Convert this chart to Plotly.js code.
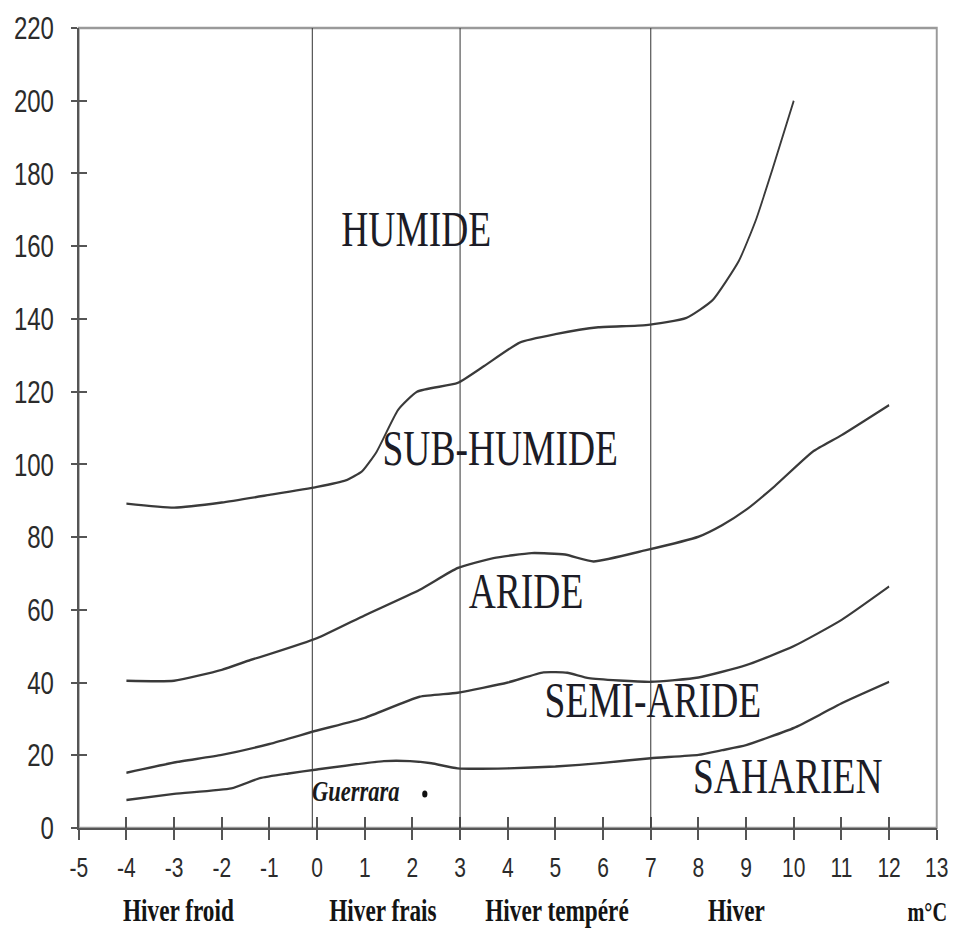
<!DOCTYPE html>
<html>
<head>
<meta charset="utf-8">
<script src="https://cdn.plot.ly/plotly-3.0.1.min.js"></script>
<style>
  html, body { margin: 0; padding: 0; background: #fff; overflow: hidden; width: 954px; height: 931px; }
  #chart { position: absolute; left: 0; top: 0; transform-origin: 0 0; }
</style>
</head>
<body>
<div id="chart"></div>
<script>
// Climagramme d'Emberger : Q2 en fonction de m (°C)

const xRange = [-5, 13];
const yRange = [0, 220];
const xTicks = [-5, -4, -3, -2, -1, 0, 1, 2, 3, 4, 5, 6, 7, 8, 9, 10, 11, 12, 13];
const yTicks = [0, 20, 40, 60, 80, 100, 120, 140, 160, 180, 200, 220];

// Limite humide / sub-humide
const humideX = [-4, -3, -2, -1, 0, 0.6, 0.95, 1.25, 1.7, 2.1, 2.95, 3.5, 4.25, 5, 5.9, 6.9, 7.75, 8.3, 8.85, 9.2, 9.55, 10];
const humideY = [89.2, 88.1, 89.5, 91.6, 93.8, 95.6, 98.2, 103.5, 115, 120, 122.4, 127, 133.5, 135.8, 137.7, 138.3, 140.3, 145.2, 156, 167, 181, 200];

// Limite sub-humide / aride
const subHumideX = [-4, -3, -2, -1.4, -1, 0, 1, 2.15, 2.95, 3.7, 4.5, 5.2, 5.8, 6.9, 8, 8.5, 9, 9.6, 10.4, 11, 12];
const subHumideY = [40.5, 40.5, 43.5, 46.2, 47.8, 52.2, 58.5, 65.5, 71.5, 74.2, 75.6, 75.2, 73.3, 76.4, 80.1, 83.3, 87.5, 94, 103.5, 108, 116.3];

// Limite aride / semi-aride
const arideX = [-4, -3, -2, -1, 0, 1, 2.15, 2.95, 4, 4.75, 5.25, 5.7, 7, 8, 9, 10, 11, 12];
const arideY = [15.2, 18, 20.1, 23.1, 26.8, 30.3, 36.1, 37.2, 40, 42.8, 42.7, 41.2, 40.2, 41.4, 44.8, 50, 57.2, 66.4];

// Limite semi-aride / saharien
const semiAridX = [-4, -3, -1.8, -1.2, -0.6, 0, 1.4, 1.95, 2.4, 2.95, 4, 5, 6, 7, 8, 8.5, 9, 10, 10.6, 11, 12];
const semiAridY = [7.7, 9.4, 10.9, 13.7, 15, 16.1, 18.4, 18.4, 17.8, 16.4, 16.4, 16.9, 17.9, 19.2, 20.1, 21.4, 22.8, 27.5, 31.5, 34.3, 40.2];

// Station
const stationName = 'Guerrara';
const stationX = [2.26];
const stationY = [9.35];

// Limites des variantes thermiques (m en °C)
const winterBounds = [-0.1, 3, 7];

const zoneNames = ['HUMIDE', 'SUB-HUMIDE', 'ARIDE', 'SEMI-ARIDE', 'SAHARIEN'];
const winterNames = ['Hiver froid', 'Hiver frais', 'Hiver tempéré', 'Hiver'];
const unitLabel = 'm°C';

// ---- placement of the texts (data units) ----
const zoneNameX = [2.08, 3.85, 4.38, 7.05, 9.88];
const zoneNameY = [164.7, 104.4, 65.2, 35.2, 14.4];
const winterNameX = [-2.9, 1.38, 5.03, 8.8];
const unitX = 12.81;
const stationLabelX = 0.81, stationLabelY = 10.2;

// The figure is laid out wide and squeezed horizontally for its narrow lettering.
const SX = 0.75;
const W = Math.round(954 / SX);
const H = 931;
document.getElementById('chart').style.transform = 'scaleX(' + SX + ')';

const curveLine = { color: '#3a3a3a', width: 2.4, shape: 'spline', smoothing: 0.5 };
const boundary = (x, y, name) => ({
  type: 'scatter', mode: 'lines', x: x, y: y, name: name,
  line: curveLine, hoverinfo: 'skip', showlegend: false
});

const traces = [
  boundary(humideX, humideY, 'Humide / Sub-humide'),
  boundary(subHumideX, subHumideY, 'Sub-humide / Aride'),
  boundary(arideX, arideY, 'Aride / Semi-aride'),
  boundary(semiAridX, semiAridY, 'Semi-aride / Saharien'),
  {
    type: 'scatter', mode: 'markers', x: stationX, y: stationY, name: stationName,
    marker: { color: '#111', size: 7 }, showlegend: false
  },
  // carriers for the inner tick marks
  { type: 'scatter', x: [], y: [], xaxis: 'x2', yaxis: 'y', showlegend: false },
  { type: 'scatter', x: [], y: [], xaxis: 'x', yaxis: 'y2', showlegend: false }
];

const tickFontX = { family: 'Liberation Sans, Arial, sans-serif', size: 28, color: '#2b2b2b' };
const tickFontY = { family: 'Liberation Sans, Arial, sans-serif', size: 32, color: '#2b2b2b' };

const shapes = winterBounds.map(b => ({
  type: 'line', xref: 'x', yref: 'y', x0: b, x1: b, y0: 0, y1: 220,
  line: { color: '#3c3c3c', width: 1.4 }, layer: 'above'
}));
shapes.push({
  type: 'rect', xref: 'paper', yref: 'paper', x0: 0, x1: 1, y0: 0, y1: 1,
  line: { color: '#9a9a9a', width: 2.6 }, layer: 'below'
});

const annotations = [];
zoneNames.forEach((t, i) => annotations.push({
  text: t, x: zoneNameX[i], y: zoneNameY[i], xref: 'x', yref: 'y',
  showarrow: false, xanchor: 'center', yanchor: 'middle',
  font: { family: 'Liberation Serif, Times New Roman, serif', size: 50, color: '#1c1c26' }
}));
winterNames.forEach((t, i) => annotations.push({
  text: '<b>' + t + '</b>', x: winterNameX[i], y: -0.103, xref: 'x', yref: 'paper',
  showarrow: false, xanchor: 'center', yanchor: 'middle',
  font: { family: 'Liberation Serif, Times New Roman, serif', size: 31, color: '#141414' }
}));
annotations.push({
  text: '<b>' + unitLabel + '</b>', x: unitX, y: -0.105, xref: 'x', yref: 'paper',
  showarrow: false, xanchor: 'center', yanchor: 'middle',
  font: { family: 'Liberation Serif, Times New Roman, serif', size: 27, color: '#141414' }
});
annotations.push({
  text: '<b><i>' + stationName + '</i></b>', x: stationLabelX, y: stationLabelY, xref: 'x', yref: 'y',
  showarrow: false, xanchor: 'center', yanchor: 'middle',
  font: { family: 'Liberation Serif, Times New Roman, serif', size: 30, color: '#1a1a1a' }
});

const layout = {
  width: W, height: H,
  margin: { l: 105, r: 23, t: 28, b: 103, autoexpand: false },
  paper_bgcolor: '#ffffff', plot_bgcolor: '#ffffff',
  showlegend: false,
  xaxis: {
    range: xRange, tickmode: 'array', tickvals: xTicks, ticktext: xTicks.map(String),
    showgrid: false, zeroline: false, showline: true, linecolor: '#555', linewidth: 2,
    ticks: 'outside', ticklen: 10, tickwidth: 2.7, tickcolor: '#555',
    tickfont: tickFontX, ticklabelstandoff: 3, automargin: false, fixedrange: true
  },
  xaxis2: {
    overlaying: 'x', anchor: 'y', side: 'bottom', range: xRange,
    tickmode: 'array', tickvals: xTicks, showticklabels: false,
    showgrid: false, zeroline: false, showline: false,
    ticks: 'inside', ticklen: 11, tickwidth: 2.7, tickcolor: '#555', fixedrange: true
  },
  yaxis: {
    range: yRange, tickmode: 'array', tickvals: yTicks, ticktext: yTicks.map(String),
    showgrid: false, zeroline: false, showline: true, linecolor: '#555', linewidth: 2.7,
    ticks: 'outside', ticklen: 8, tickwidth: 2, tickcolor: '#555',
    tickfont: tickFontY, ticklabelstandoff: 16, automargin: false, fixedrange: true
  },
  yaxis2: {
    overlaying: 'y', anchor: 'x', side: 'left', range: yRange,
    tickmode: 'array', tickvals: yTicks, showticklabels: false,
    showgrid: false, zeroline: false, showline: false,
    ticks: 'inside', ticklen: 10.7, tickwidth: 2, tickcolor: '#555', fixedrange: true
  },
  shapes: shapes,
  annotations: annotations
};

Plotly.newPlot('chart', traces, layout, { displayModeBar: false, staticPlot: true });
</script>
</body>
</html>
